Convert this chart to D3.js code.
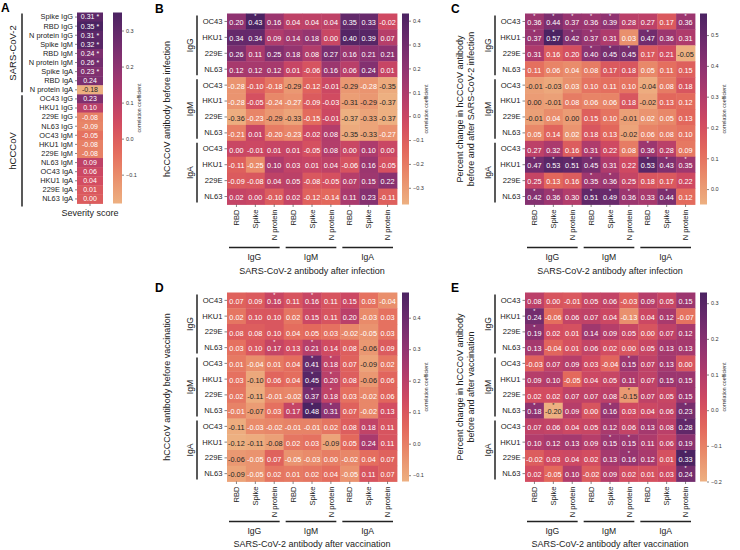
<!DOCTYPE html>
<html><head><meta charset="utf-8">
<script src="https://cdn.jsdelivr.net/npm/d3@7"></script>
<style>body{margin:0;background:#fff} svg{font-family:"Liberation Sans",Arial,sans-serif}</style>
</head><body><svg id="c" width="740" height="550"></svg>
<script>
// ---------- data ----------
const colAbs = ["RBD","Spike","N protein","RBD","Spike","N protein","RBD","Spike","N protein"];
const colGroups = ["IgG","IgM","IgA"];
const rowViruses = ["OC43","HKU1","229E","NL63","OC43","HKU1","229E","NL63","OC43","HKU1","229E","NL63"];
const rowGroups = ["IgG","IgM","IgA"];

const aLabels = ["Spike IgG","RBD IgG","N protein IgG","Spike IgM","RBD IgM","N protein IgM","Spike IgA","RBD IgA","N protein IgA",
  "OC43 IgG","HKU1 IgG","229E IgG","NL63 IgG","OC43 IgM","HKU1 IgM","229E IgM","NL63 IgM","OC43 IgA","HKU1 IgA","229E IgA","NL63 IgA"];
const aValues = [0.31,0.35,0.31,0.32,0.24,0.26,0.23,0.24,-0.18,0.23,0.10,-0.08,-0.09,-0.05,-0.08,-0.08,0.09,0.06,0.04,0.01,-0.001];
const aStars = [0,1,2,3,4,5,6];
const aGroups = [{name:"SARS-CoV-2",from:0,to:8},{name:"hCCCoV",from:9,to:20}];

const bValues = [
[0.20,0.43,0.16,0.04,0.04,0.04,0.35,0.33,-0.02],
[0.34,0.34,0.09,0.14,0.18,0.00,0.40,0.39,0.07],
[0.26,0.11,0.25,0.18,0.08,0.27,0.16,0.21,0.21],
[0.12,0.12,0.12,0.01,-0.06,0.16,0.06,0.24,0.01],
[-0.28,-0.10,-0.18,-0.29,-0.12,-0.01,-0.29,-0.28,-0.35],
[-0.28,-0.05,-0.24,-0.27,-0.09,-0.03,-0.31,-0.29,-0.37],
[-0.36,-0.23,-0.29,-0.33,-0.15,-0.01,-0.37,-0.33,-0.37],
[-0.21,0.01,-0.20,-0.23,-0.02,0.08,-0.35,-0.33,-0.27],
[0.00,-0.01,0.01,0.01,-0.05,0.08,0.00,0.10,0.00],
[-0.11,-0.25,0.10,0.03,0.01,0.04,-0.06,0.16,-0.05],
[-0.09,-0.08,0.04,0.05,-0.08,-0.05,0.07,0.15,0.22],
[0.02,0.00,-0.10,0.02,-0.12,-0.14,0.11,0.23,-0.11]];
const bStars = [[0,1]];

const cValues = [
[0.36,0.44,0.37,0.36,0.39,0.28,0.27,0.17,0.36],
[0.37,0.57,0.42,0.37,0.31,0.03,0.47,0.36,0.31],
[0.31,0.16,0.20,0.40,0.45,0.45,0.17,0.21,-0.05],
[0.11,0.06,0.04,0.08,0.17,0.18,0.05,0.11,0.15],
[-0.01,-0.03,0.03,0.10,0.11,0.10,-0.04,0.08,0.18],
[0.00,-0.01,0.08,0.06,0.06,0.18,-0.02,0.13,0.12],
[-0.01,0.04,0.00,0.15,0.10,-0.01,0.02,0.05,0.13],
[0.05,0.14,0.02,0.18,0.13,-0.02,0.06,0.08,0.10],
[0.27,0.32,0.16,0.31,0.22,0.08,0.36,0.28,0.09],
[0.47,0.53,0.51,0.45,0.31,0.22,0.53,0.43,0.35],
[0.25,0.13,0.16,0.35,0.36,0.25,0.18,0.17,0.22],
[0.42,0.36,0.30,0.51,0.49,0.36,0.33,0.44,0.12]];
const cStars = [[0,0],[0,1],[0,2],[0,3],[0,4],[0,8],[1,0],[1,1],[1,2],[1,3],[1,6],[2,3],[2,4],[2,5],[8,6],
  [9,0],[9,1],[9,2],[9,3],[9,6],[9,7],[9,8],[10,3],[10,4],[11,0],[11,1],[11,3],[11,4],[11,5],[11,7]];

const dValues = [
[0.07,0.09,0.16,0.11,0.16,0.11,0.15,0.03,-0.04],
[0.02,0.10,0.10,0.02,0.15,0.11,0.20,-0.03,0.03],
[0.08,0.08,0.10,0.04,0.05,0.03,-0.02,-0.05,0.03],
[0.03,0.10,0.17,0.13,0.21,0.14,0.08,-0.06,0.09],
[0.01,-0.04,0.01,0.04,0.41,0.18,0.07,-0.09,0.02],
[0.03,-0.10,0.06,0.04,0.45,0.20,0.08,-0.06,0.06],
[0.02,-0.11,-0.01,-0.02,0.37,0.18,0.03,-0.02,0.06],
[-0.01,-0.07,0.03,0.17,0.48,0.31,0.07,-0.02,0.13],
[-0.11,-0.03,-0.02,-0.01,-0.01,0.02,0.08,0.18,0.11],
[-0.12,-0.11,-0.08,0.02,0.03,-0.09,0.05,0.24,0.11],
[-0.06,-0.05,0.07,-0.05,-0.03,0.00,-0.02,0.04,0.07],
[-0.09,-0.05,0.02,0.01,0.02,0.04,-0.05,0.11,0.07]];
const dStars = [[0,2],[0,4],[3,2],[3,4],[4,4],[4,5],[5,4],[5,5],[6,4],[6,5],[7,3],[7,4],[7,5]];

const eValues = [
[0.08,0.00,-0.01,0.05,0.06,-0.03,0.09,0.05,0.15],
[0.24,-0.06,0.06,0.07,0.04,-0.13,0.04,0.12,-0.07],
[0.19,0.02,0.01,0.14,0.09,0.05,0.00,0.07,0.12],
[0.13,-0.04,0.01,0.06,0.02,0.00,0.05,0.13,0.13],
[-0.03,0.07,0.09,0.03,-0.04,0.15,0.07,0.13,0.00],
[0.09,0.10,-0.05,0.04,0.05,0.11,0.07,0.15,0.15],
[0.02,0.02,0.07,0.07,0.08,-0.15,0.07,0.05,0.15],
[0.18,-0.20,0.09,0.00,0.16,0.03,0.04,0.06,0.23],
[0.07,0.06,0.04,0.05,0.12,0.06,0.13,0.08,0.28],
[0.10,0.12,0.13,0.09,0.15,0.15,0.11,0.06,0.19],
[-0.02,0.03,0.04,0.02,0.13,0.16,0.12,0.01,0.33],
[0.02,-0.05,0.10,-0.02,0.09,0.02,0.01,0.03,0.24]];
const eStars = [[1,0],[2,0],[4,5],[6,5],[7,0],[7,1],[7,4],[7,8],[8,8],[9,4],[9,5],[10,5],[10,8],[11,8]];

// ---------- helpers ----------
const flareStops = ["#edb081","#e98d6b","#e3685c","#d14a61","#b13c6c","#8f3371","#6c2b6d","#4b2362"];
const flare = d3.piecewise(d3.interpolateRgb, flareStops);
function lum(c){const r=d3.rgb(c);const f=v=>{v/=255;return v<=0.03928?v/12.92:Math.pow((v+0.055)/1.055,2.4)};
  return 0.2126*f(r.r)+0.7152*f(r.g)+0.0722*f(r.b);}
const textCol = c => lum(c) > 0.408 ? "#262626" : "#ffffff";
const fmt = v => d3.format(".2f")(v).replace("−","-");
const FONT = "Liberation Sans, Arial, sans-serif";
const svg = d3.select("#c");
let gradId = 0;

function colorbar(x, y0, y1, scale, w){
  const id = "g"+(gradId++);
  const grad = svg.append("defs").append("linearGradient").attr("id",id)
    .attr("x1",0).attr("y1",1).attr("x2",0).attr("y2",0);
  d3.range(0,1.0001,0.05).forEach(t=>grad.append("stop").attr("offset",t).attr("stop-color",flare(t)));
  svg.append("rect").attr("x",x).attr("y",y0).attr("width",w).attr("height",y1-y0).attr("fill",`url(#${id})`);
  const [lo,hi] = scale.domain();
  const ticks = d3.range(Math.ceil(lo*10-1e-9), Math.floor(hi*10+1e-9)+1).map(k=>k/10);
  const ys = d3.scaleLinear().domain([lo,hi]).range([y1,y0]);
  const ax = svg.append("g").attr("transform",`translate(${x+w},0)`)
    .call(d3.axisRight(ys).tickValues(ticks).tickSize(2).tickPadding(2).tickFormat(d3.format(".1f")));
  ax.select(".domain").remove();
  ax.selectAll("line").attr("stroke","#333").attr("stroke-width",0.6);
  ax.selectAll("text").attr("font-size",5.5).attr("fill","#333").attr("font-family",FONT);
  svg.append("text").attr("transform",`translate(${x+w+19},${(y0+y1)/2}) rotate(-90)`)
    .attr("text-anchor","middle").attr("font-size",5.2).attr("fill","#333").text("correlation coefficient");
}

// ---------- Panel A ----------
(function(){
  const x0=77, x1=103, y0=12.5, y1=203.5;
  const y = d3.scaleBand().domain(d3.range(aLabels.length)).range([y0,y1]);
  const x = d3.scaleBand().domain([0]).range([x0,x1]);
  const c = d3.scaleSequential(flare).domain([d3.min(aValues), d3.max(aValues)]);
  svg.append("g").selectAll("rect").data(aValues).join("rect")
    .attr("x",x(0)).attr("y",(d,i)=>y(i)).attr("width",x.bandwidth()).attr("height",y.bandwidth()+0.4)
    .attr("fill",d=>c(d));
  svg.append("g").selectAll("text").data(aValues).join("text")
    .attr("x",x(0)+x.bandwidth()/2).attr("y",(d,i)=>y(i)+y.bandwidth()/2).attr("dy","0.35em")
    .attr("text-anchor","middle").attr("font-size",7).attr("fill",d=>textCol(c(d)))
    .text((d,i)=>fmt(d)+(aStars.includes(i)?" *":""));
  const ay = svg.append("g").attr("transform",`translate(${x0},0)`)
    .call(d3.axisLeft(y).tickSize(2).tickPadding(2).tickFormat(i=>aLabels[i]));
  ay.select(".domain").remove();
  ay.selectAll("line").attr("stroke","#333").attr("stroke-width",0.6);
  ay.selectAll("text").attr("font-size",7.4).attr("fill","#222").attr("font-family",FONT);
  const ax = svg.append("g").attr("transform",`translate(0,${y1})`)
    .call(d3.axisBottom(x).tickSize(2.5).tickFormat(()=>""));
  ax.select(".domain").remove();
  ax.selectAll("line").attr("stroke","#333").attr("stroke-width",0.6);
  svg.append("text").attr("x",x0+x.bandwidth()/2).attr("y",y1+12).attr("text-anchor","middle")
    .attr("font-size",9).attr("fill","#222").text("Severity score");
  aGroups.forEach(g=>{
    const ya = y(g.from)+1, yb = y(g.to)+y.bandwidth()+(g.from?3:-2);
    svg.append("line").attr("x1",22).attr("x2",22).attr("y1",ya).attr("y2",yb).attr("stroke","#222").attr("stroke-width",1.5);
    svg.append("text").attr("transform",`translate(16,${(ya+yb)/2}) rotate(-90)`).attr("text-anchor","middle")
      .attr("font-size",9.5).attr("fill","#222").text(g.name);
  });
  colorbar(113, y0, y1, c, 9);
  svg.append("text").attr("x",1).attr("y",12).attr("font-size",12).attr("font-weight","bold").text("A");
})();

// ---------- Panels B-E ----------
function panel(o){
  const x = d3.scaleBand().domain(d3.range(9)).range([o.x0,o.x0+o.w]);
  const y = d3.scaleBand().domain(d3.range(12)).range([o.y0,o.y0+o.h]);
  const flat = o.values.flat();
  const c = d3.scaleSequential(flare).domain([d3.min(flat), d3.max(flat)]);
  const cells = [];
  o.values.forEach((row,r)=>row.forEach((v,k)=>cells.push({r,k,v})));
  const g = svg.append("g");
  g.selectAll("rect").data(cells).join("rect")
    .attr("x",d=>x(d.k)).attr("y",d=>y(d.r)).attr("width",x.bandwidth()+0.4).attr("height",y.bandwidth()+0.4)
    .attr("fill",d=>c(d.v));
  g.selectAll("text.v").data(cells).join("text").attr("class","v")
    .attr("x",d=>x(d.k)+x.bandwidth()/2).attr("y",d=>y(d.r)+y.bandwidth()/2+1.2).attr("dy","0.35em")
    .attr("text-anchor","middle").attr("font-size",7.3).attr("fill",d=>textCol(c(d.v))).text(d=>fmt(d.v));
  g.selectAll("text.s").data(o.stars).join("text").attr("class","s")
    .attr("x",d=>x(d[1])+x.bandwidth()/2).attr("y",d=>y(d[0])+4.6)
    .attr("text-anchor","middle").attr("font-size",5.5).attr("fill",d=>textCol(c(o.values[d[0]][d[1]]))).text("*");
  // y axis
  const ay = svg.append("g").attr("transform",`translate(${o.x0},0)`)
    .call(d3.axisLeft(y).tickSize(2.5).tickPadding(2).tickFormat(i=>rowViruses[i]));
  ay.select(".domain").remove();
  ay.selectAll("line").attr("stroke","#333").attr("stroke-width",0.6);
  ay.selectAll("text").attr("font-size",7.6).attr("fill","#222").attr("font-family",FONT);
  // x axis
  const ax = svg.append("g").attr("transform",`translate(0,${o.y0+o.h})`)
    .call(d3.axisBottom(x).tickSize(2.5).tickFormat(i=>colAbs[i]));
  ax.select(".domain").remove();
  ax.selectAll("line").attr("stroke","#333").attr("stroke-width",0.6);
  ax.selectAll("text").attr("font-size",7.6).attr("fill","#222").attr("font-family",FONT)
    .attr("transform","rotate(-90)").attr("text-anchor","end").attr("x",-5).attr("y",0).attr("dy","0.35em");
  // row groups
  rowGroups.forEach((name,gi)=>{
    const ya = y(gi*4)+2, yb = y(gi*4+3)+y.bandwidth()-2;
    svg.append("line").attr("x1",o.x0-30).attr("x2",o.x0-30).attr("y1",ya).attr("y2",yb).attr("stroke","#222").attr("stroke-width",1.5);
    svg.append("text").attr("transform",`translate(${o.x0-34},${(ya+yb)/2}) rotate(-90)`).attr("text-anchor","middle")
      .attr("font-size",8.6).attr("fill","#222").text(name);
  });
  // column groups
  const yb0 = o.y0+o.h;
  colGroups.forEach((name,gi)=>{
    const xa = x(gi*3)+2, xb = x(gi*3+2)+x.bandwidth()-4;
    svg.append("line").attr("x1",xa).attr("x2",xb).attr("y1",yb0+o.lineOff).attr("y2",yb0+o.lineOff).attr("stroke","#222").attr("stroke-width",1.5);
    svg.append("text").attr("x",(xa+xb)/2).attr("y",yb0+o.lineOff+12).attr("text-anchor","middle")
      .attr("font-size",8.6).attr("fill","#222").text(name);
  });
  svg.append("text").attr("x",o.x0+o.w/2).attr("y",yb0+o.titleOff).attr("text-anchor","middle")
    .attr("font-size",9).attr("fill","#222").text(o.xTitle);
  const n = o.yTitle.length;
  o.yTitle.forEach((t,i)=>{
    svg.append("text").attr("transform",`translate(${o.x0-(n===1?57:51+(n-1-i)*11)},${o.y0+o.h/2}) rotate(-90)`)
      .attr("text-anchor","middle").attr("font-size",9).attr("fill","#222").text(t);
  });
  colorbar(o.x0+o.w+5, o.y0, o.y0+o.h, c, 7);
  svg.append("text").attr("x",o.lx).attr("y",o.y0-1).attr("font-size",12).attr("font-weight","bold").text(o.letter);
}

panel({letter:"B",lx:155,x0:227,y0:13.5,w:170,h:191,values:bValues,stars:bStars,lineOff:43,titleOff:69,
  yTitle:["hCCCoV antibody before infection"],xTitle:"SARS-CoV-2 antibody after infection"});
panel({letter:"C",lx:451,x0:525,y0:13.5,w:170,h:191,values:cValues,stars:cStars,lineOff:43,titleOff:69,
  yTitle:["Percent change in hCCCoV antibody","before and after SARS-CoV-2 infection"],xTitle:"SARS-CoV-2 antibody after infection"});
panel({letter:"D",lx:155,x0:227,y0:292.5,w:170,h:189,values:dValues,stars:dStars,lineOff:40,titleOff:65,
  yTitle:["hCCCoV antibody before vaccination"],xTitle:"SARS-CoV-2 antibody after vaccination"});
panel({letter:"E",lx:451,x0:525,y0:292.5,w:170,h:189,values:eValues,stars:eStars,lineOff:40,titleOff:65,
  yTitle:["Percent change in hCCCoV antibody","before and after vaccination"],xTitle:"SARS-CoV-2 antibody after vaccination"});
</script></body></html>
